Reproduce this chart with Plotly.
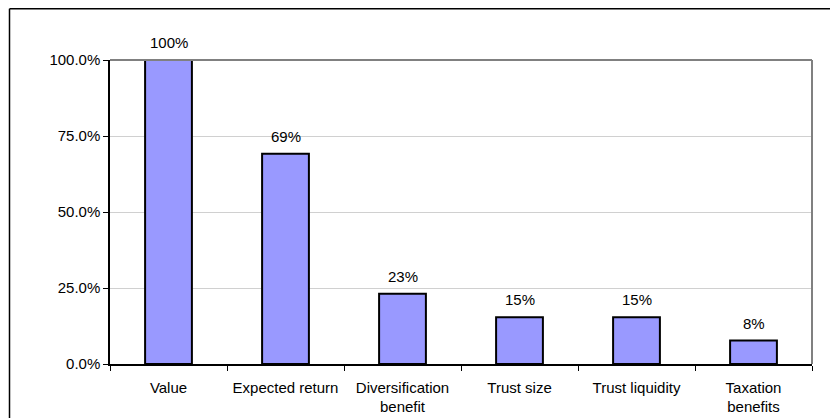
import plotly.graph_objects as go

categories = ["Value", "Expected return", "Diversification<br>benefit", "Trust size", "Trust liquidity", "Taxation<br>benefits"]
values = [1.0, 0.692, 0.231, 0.154, 0.154, 0.077]
labels = ["100%", "69%", "23%", "15%", "15%", "8%"]
tick_vals = [0, 0.25, 0.5, 0.75, 1.0]
tick_text = ["0.0%", "25.0%", "50.0%", "75.0%", "100.0%"]

# page body has an 8px margin, so the figure is sized to the remaining area
W, H = 830, 410
L, R, T, B = 102, 26, 52, 54
FONT = dict(family="Liberation Sans, Arial, sans-serif", size=15, color="black")

fig = go.Figure(go.Bar(
    x=categories, y=values,
    marker=dict(color="#9999FF", line=dict(color="black", width=2)),
    width=0.4,
))

for c, v, t in zip(categories, values, labels):
    fig.add_annotation(x=c, y=v, text=t, showarrow=False, yanchor="bottom",
                       yshift=7, font=FONT)

fig.update_layout(
    width=W, height=H,
    margin=dict(l=L, r=R, t=T, b=B, autoexpand=False),
    paper_bgcolor="white", plot_bgcolor="white",
    showlegend=False,
    font=FONT,
)
fig.update_xaxes(
    showline=True, linecolor="black", linewidth=1.5,
    ticks="outside", ticklen=5, tickcolor="black", tickson="boundaries",
    showgrid=False, tickfont=FONT, ticklabelstandoff=9, automargin=False,
)
fig.update_yaxes(
    range=[0, 1.0], tickvals=tick_vals, ticktext=tick_text,
    showline=True, linecolor="black", linewidth=1.5,
    ticks="outside", ticklen=5, tickcolor="black",
    showgrid=True, gridcolor="#D0D0D0", gridwidth=1,
    zeroline=False, tickfont=FONT, automargin=False,
)
# plot-area border top/right (gray)
fig.add_shape(type="line", xref="paper", yref="paper", x0=0, x1=1, y0=1, y1=1,
              line=dict(color="#808080", width=2))
fig.add_shape(type="line", xref="paper", yref="paper", x0=1, x1=1, y0=0, y1=1,
              line=dict(color="#808080", width=2))
# outer chart frame (top and left visible)
pw, ph = W - L - R, H - T - B
def px(x):
    return (x - L) / pw
def py(y):
    return (H - B - y) / ph
fig.add_shape(type="line", xref="paper", yref="paper", x0=px(1.5), x1=px(823), y0=py(0.75), y1=py(0.75),
              line=dict(color="black", width=1.5))
fig.add_shape(type="line", xref="paper", yref="paper", x0=px(1.5), x1=px(1.5), y0=py(0.75), y1=py(420),
              line=dict(color="black", width=1.5))

fig.write_html("out.html")
